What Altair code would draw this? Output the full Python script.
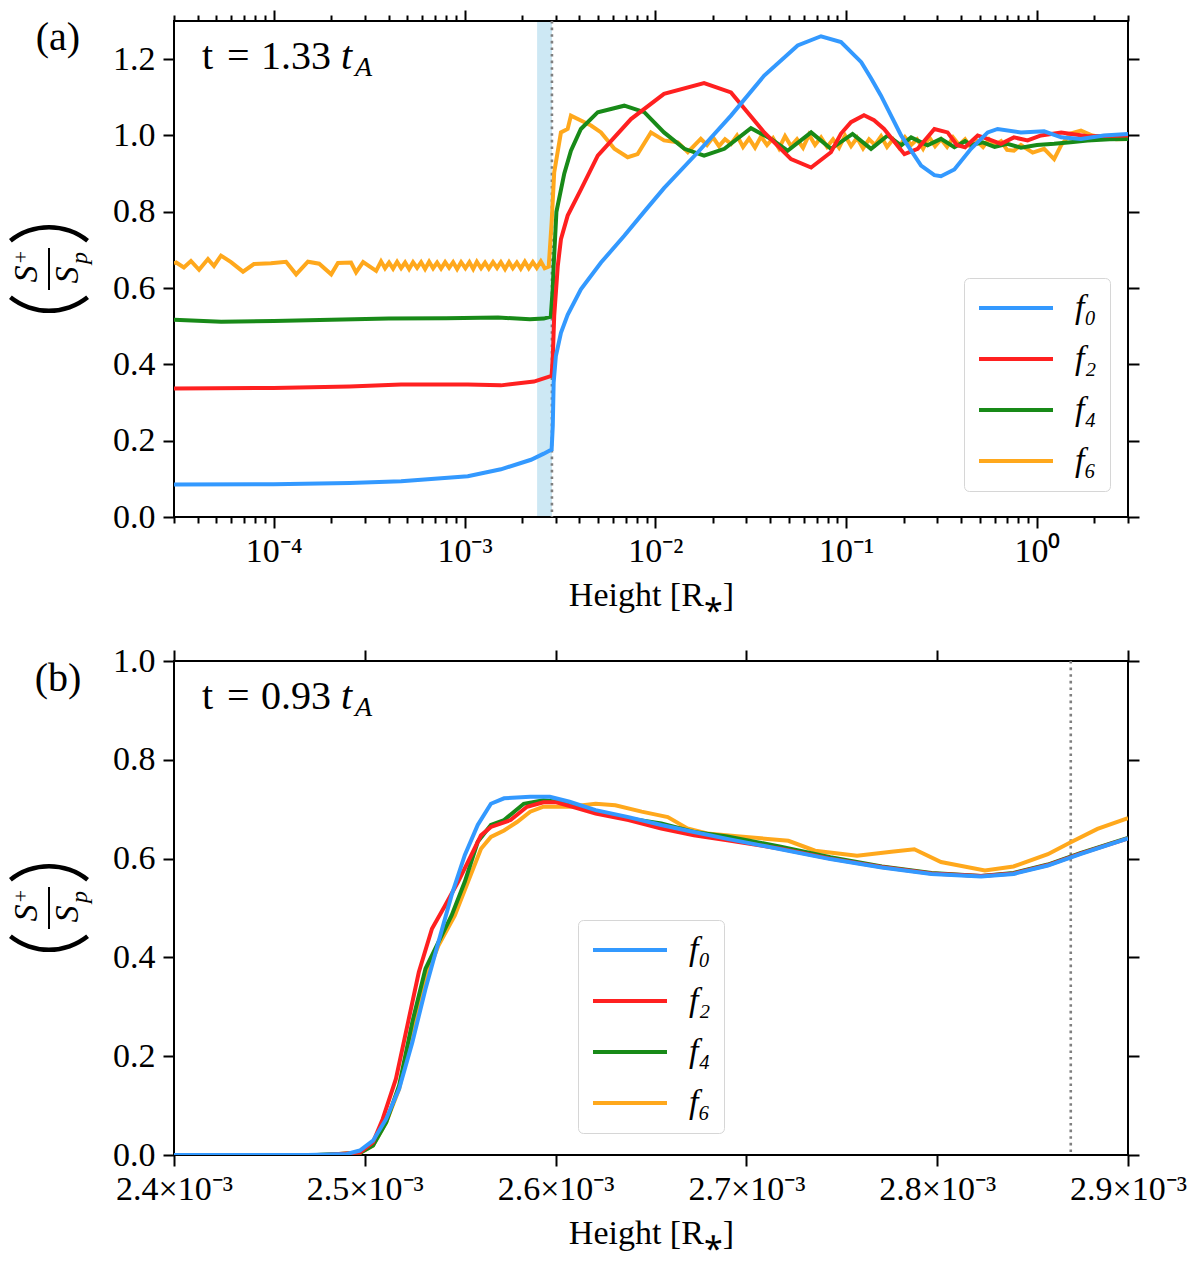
import math

import altair as alt
import pandas as pd

FONT = "Liberation Serif"
SERIES = ["f₀", "f₂", "f₄", "f₆"]
COLORS = ["#3399ff", "#ff2020", "#188a18", "#ffa81c"]

# ---------------- panel (a): t = 1.33 tA, log height ----------------
a_f0 = [(3.0e-5, 0.085), (1.0e-4, 0.086), (2.5e-4, 0.089), (4.65e-4, 0.094), (1.04e-3, 0.107),
        (1.55e-3, 0.125), (2.23e-3, 0.150), (2.60e-3, 0.166), (2.86e-3, 0.177), (2.90e-3, 0.240),
        (2.93e-3, 0.352), (3.01e-3, 0.422), (3.20e-3, 0.483), (3.47e-3, 0.530), (4.07e-3, 0.597),
        (5.19e-3, 0.667), (6.87e-3, 0.737), (8.90e-3, 0.805), (1.11e-2, 0.862), (1.67e-2, 0.956),
        (2.49e-2, 1.052), (3.72e-2, 1.157), (5.57e-2, 1.236), (7.38e-2, 1.260), (9.40e-2, 1.245),
        (0.120, 1.192), (0.135, 1.150), (0.152, 1.105), (0.194, 1.000), (0.247, 0.921),
        (0.290, 0.896), (0.314, 0.893), (0.369, 0.911), (0.451, 0.965), (0.552, 1.008),
        (0.622, 1.017), (0.824, 1.008), (1.09, 1.011), (1.34, 0.995), (1.70, 0.991),
        (2.24, 1.000), (3.00, 1.004)]

a_f2 = [(3.0e-5, 0.337), (1.0e-4, 0.338), (2.5e-4, 0.342), (4.65e-4, 0.347), (1.04e-3, 0.347),
        (1.55e-3, 0.345), (2.31e-3, 0.355), (2.86e-3, 0.370), (2.90e-3, 0.420), (2.95e-3, 0.527),
        (3.08e-3, 0.658), (3.20e-3, 0.728), (3.47e-3, 0.790), (4.07e-3, 0.858), (4.99e-3, 0.947),
        (7.45e-3, 1.043), (1.11e-2, 1.109), (1.80e-2, 1.137), (2.49e-2, 1.113), (3.72e-2, 1.008),
        (5.14e-2, 0.938), (6.55e-2, 0.916), (8.32e-2, 0.956), (9.40e-2, 1.005), (0.106, 1.035),
        (0.124, 1.053), (0.140, 1.040), (0.158, 1.017), (0.202, 0.951), (0.237, 0.965),
        (0.290, 1.017), (0.340, 1.008), (0.380, 0.975), (0.420, 0.969), (0.489, 1.000),
        (0.560, 0.990), (0.648, 0.978), (0.757, 0.995), (0.893, 0.987), (1.05, 1.000),
        (1.34, 1.008), (1.84, 0.998), (3.00, 1.000)]

a_f4 = [(3.0e-5, 0.517), (5.3e-5, 0.512), (1.0e-4, 0.514), (2.0e-4, 0.517), (4.0e-4, 0.520),
        (8.0e-4, 0.521), (1.5e-3, 0.523), (2.2e-3, 0.518), (2.60e-3, 0.520), (2.83e-3, 0.525),
        (2.90e-3, 0.600), (2.93e-3, 0.658), (3.03e-3, 0.800), (3.33e-3, 0.900), (3.61e-3, 0.960),
        (4.07e-3, 1.017), (4.99e-3, 1.061), (6.87e-3, 1.078), (8.75e-3, 1.061), (1.11e-2, 1.008),
        (1.42e-2, 0.965), (1.80e-2, 0.947), (2.30e-2, 0.965), (3.17e-2, 1.019), (4.04e-2, 0.991),
        (4.93e-2, 0.960), (6.55e-2, 1.008), (8.32e-2, 0.965), (0.108, 1.004), (0.135, 0.965),
        (0.165, 1.000), (0.194, 0.974), (0.219, 0.995), (0.267, 0.974), (0.314, 0.991),
        (0.369, 0.969), (0.420, 0.985), (0.451, 0.975), (0.520, 0.982), (0.600, 0.970),
        (0.700, 0.978), (0.824, 0.968), (1.00, 0.975), (1.23, 0.978), (1.50, 0.982),
        (1.84, 0.987), (2.40, 0.990), (3.00, 0.991)]

a_f6 = [(3.00e-5, 0.665), (3.08e-5, 0.667), (3.38e-5, 0.654), (3.68e-5, 0.671), (4.06e-5, 0.648),
        (4.52e-5, 0.676), (4.86e-5, 0.658), (5.29e-5, 0.685), (5.97e-5, 0.668), (6.90e-5, 0.643),
        (7.87e-5, 0.663), (9.66e-5, 0.665), (1.16e-4, 0.669), (1.31e-4, 0.636), (1.51e-4, 0.669),
        (1.73e-4, 0.664), (2.00e-4, 0.636), (2.17e-4, 0.666), (2.54e-4, 0.667), (2.70e-4, 0.641),
        (2.94e-4, 0.668), (3.44e-4, 0.645), (3.65e-4, 0.670), (3.83e-4, 0.652), (4.02e-4, 0.667),
        (4.22e-4, 0.651), (4.43e-4, 0.669), (4.65e-4, 0.652), (4.88e-4, 0.667), (5.12e-4, 0.650),
        (5.37e-4, 0.668), (5.64e-4, 0.653), (5.92e-4, 0.668), (6.21e-4, 0.650), (6.52e-4, 0.669),
        (6.84e-4, 0.652), (7.18e-4, 0.667), (7.53e-4, 0.651), (7.91e-4, 0.668), (8.30e-4, 0.653),
        (8.71e-4, 0.668), (9.14e-4, 0.650), (9.59e-4, 0.668), (1.01e-3, 0.652), (1.06e-3, 0.668),
        (1.11e-3, 0.650), (1.16e-3, 0.669), (1.22e-3, 0.652), (1.28e-3, 0.667), (1.34e-3, 0.651),
        (1.41e-3, 0.668), (1.48e-3, 0.653), (1.55e-3, 0.668), (1.63e-3, 0.650), (1.71e-3, 0.668),
        (1.79e-3, 0.652), (1.88e-3, 0.667), (1.97e-3, 0.651), (2.07e-3, 0.669), (2.17e-3, 0.652),
        (2.28e-3, 0.668), (2.39e-3, 0.653), (2.51e-3, 0.670), (2.63e-3, 0.652), (2.76e-3, 0.656),
        (2.86e-3, 0.772), (2.95e-3, 0.903), (3.20e-3, 1.008), (3.47e-3, 1.017), (3.61e-3, 1.052),
        (4.07e-3, 1.039), (4.60e-3, 1.026), (5.19e-3, 1.008), (6.10e-3, 0.965), (7.16e-3, 0.943),
        (8.07e-3, 0.951), (9.48e-3, 1.008), (1.11e-2, 0.987), (1.31e-2, 0.982), (1.48e-2, 0.956),
        (1.73e-2, 0.991), (1.865e-2, 0.975), (2.005e-2, 0.995), (2.156e-2, 0.972), (2.318e-2, 0.990),
        (2.492e-2, 0.978), (2.679e-2, 1.000), (2.880e-2, 0.970), (3.097e-2, 0.992), (3.329e-2, 0.968),
        (3.579e-2, 0.997), (3.848e-2, 0.975), (4.137e-2, 0.993), (4.448e-2, 0.966), (4.782e-2, 0.998),
        (5.141e-2, 0.972), (5.527e-2, 0.990), (5.942e-2, 0.968), (6.389e-2, 1.002), (6.868e-2, 0.975),
        (7.384e-2, 0.995), (7.939e-2, 0.970), (8.535e-2, 0.990), (9.176e-2, 0.968), (9.866e-2, 1.000),
        (0.1061, 0.972), (0.1140, 0.994), (0.1226, 0.966), (0.1318, 0.990), (0.1417, 0.975),
        (0.1524, 0.998), (0.1638, 0.970), (0.1761, 0.990), (0.1893, 0.968), (0.2035, 0.995),
        (0.2188, 0.975), (0.2353, 0.990), (0.2529, 0.965), (0.2719, 0.996), (0.2924, 0.972),
        (0.3143, 0.990), (0.3379, 0.970), (0.3633, 0.995), (0.3906, 0.975), (0.4199, 0.990),
        (0.4515, 0.968), (0.4854, 0.985), (0.5218, 0.970), (0.5610, 0.990), (0.6031, 0.975),
        (0.6484, 0.985), (0.6971, 0.962), (0.757, 0.960), (0.824, 0.975), (0.95, 0.955),
        (1.09, 0.965), (1.23, 0.938), (1.34, 0.975), (1.50, 1.005), (1.70, 1.013),
        (1.95, 1.000), (2.24, 0.995), (2.60, 0.990), (3.00, 0.991)]

a_band = [2.4e-3, 2.87e-3]
a_marker = 2.87e-3
a_xdomain = [3e-5, 3.0]
a_ydomain = [0.0, 1.3]
a_major = [1e-4, 1e-3, 1e-2, 1e-1, 1.0]
a_major_labels = ["10⁻⁴", "10⁻³", "10⁻²", "10⁻¹", "10⁰"]
a_yticks = [0.0, 0.2, 0.4, 0.6, 0.8, 1.0, 1.2]

# ---------------- panel (b): t = 0.93 tA, linear height ----------------
b_f0 = [(2.400e-3, 0.0), (2.470e-3, 0.0), (2.4906e-3, 0.002), (2.4974e-3, 0.009), (2.5043e-3, 0.029),
        (2.5112e-3, 0.073), (2.5180e-3, 0.134), (2.5249e-3, 0.228), (2.5318e-3, 0.336), (2.5386e-3, 0.431),
        (2.5455e-3, 0.526), (2.5524e-3, 0.607), (2.5592e-3, 0.668), (2.5661e-3, 0.711), (2.5730e-3, 0.722),
        (2.5867e-3, 0.725), (2.5970e-3, 0.725), (2.6073e-3, 0.715), (2.6210e-3, 0.698), (2.6382e-3, 0.684),
        (2.6554e-3, 0.668), (2.6725e-3, 0.654), (2.690e-3, 0.640), (2.718e-3, 0.619), (2.744e-3, 0.599),
        (2.771e-3, 0.582), (2.797e-3, 0.569), (2.823e-3, 0.564), (2.840e-3, 0.569), (2.858e-3, 0.586),
        (2.875e-3, 0.609), (2.900e-3, 0.641)]

b_f2 = [(2.400e-3, 0.0), (2.480e-3, 0.0), (2.4974e-3, 0.005), (2.5043e-3, 0.026), (2.5094e-3, 0.073),
        (2.5163e-3, 0.154), (2.5223e-3, 0.262), (2.5283e-3, 0.370), (2.5352e-3, 0.458), (2.5421e-3, 0.505),
        (2.5489e-3, 0.553), (2.5558e-3, 0.607), (2.5609e-3, 0.647), (2.5661e-3, 0.664), (2.5764e-3, 0.678),
        (2.5850e-3, 0.705), (2.5936e-3, 0.714), (2.6004e-3, 0.714), (2.6107e-3, 0.703), (2.6210e-3, 0.691),
        (2.6382e-3, 0.678), (2.6554e-3, 0.661), (2.6725e-3, 0.647), (2.690e-3, 0.637), (2.718e-3, 0.620),
        (2.744e-3, 0.600), (2.771e-3, 0.583), (2.797e-3, 0.570), (2.823e-3, 0.565), (2.840e-3, 0.570),
        (2.858e-3, 0.587), (2.875e-3, 0.610), (2.900e-3, 0.641)]

b_f4 = [(2.400e-3, 0.0), (2.475e-3, 0.0), (2.4974e-3, 0.004), (2.5043e-3, 0.019), (2.5112e-3, 0.066),
        (2.5180e-3, 0.141), (2.5249e-3, 0.269), (2.5318e-3, 0.377), (2.5386e-3, 0.431), (2.5455e-3, 0.485),
        (2.5524e-3, 0.553), (2.5592e-3, 0.634), (2.5661e-3, 0.668), (2.5730e-3, 0.678), (2.5833e-3, 0.711),
        (2.5936e-3, 0.718), (2.6039e-3, 0.714), (2.6210e-3, 0.695), (2.6382e-3, 0.681), (2.6554e-3, 0.671),
        (2.6725e-3, 0.654), (2.690e-3, 0.645), (2.718e-3, 0.624), (2.744e-3, 0.603), (2.771e-3, 0.584),
        (2.797e-3, 0.571), (2.823e-3, 0.565), (2.840e-3, 0.571), (2.858e-3, 0.588), (2.875e-3, 0.611),
        (2.900e-3, 0.642)]

b_f6 = [(2.400e-3, 0.0), (2.475e-3, 0.0), (2.4974e-3, 0.004), (2.5043e-3, 0.019), (2.5112e-3, 0.066),
        (2.5180e-3, 0.134), (2.5249e-3, 0.255), (2.5318e-3, 0.357), (2.5386e-3, 0.424), (2.5472e-3, 0.485),
        (2.5541e-3, 0.553), (2.5609e-3, 0.620), (2.5661e-3, 0.644), (2.5730e-3, 0.657), (2.5798e-3, 0.674),
        (2.5867e-3, 0.695), (2.5936e-3, 0.705), (2.6073e-3, 0.705), (2.6210e-3, 0.711), (2.6313e-3, 0.708),
        (2.6451e-3, 0.695), (2.6588e-3, 0.684), (2.6691e-3, 0.661), (2.6794e-3, 0.651), (2.6966e-3, 0.645),
        (2.722e-3, 0.636), (2.736e-3, 0.616), (2.758e-3, 0.606), (2.776e-3, 0.614), (2.788e-3, 0.619),
        (2.802e-3, 0.593), (2.825e-3, 0.576), (2.840e-3, 0.584), (2.858e-3, 0.609), (2.870e-3, 0.633),
        (2.884e-3, 0.660), (2.900e-3, 0.682)]

b_marker = 2.87e-3
b_xdomain = [2.4e-3, 2.9e-3]
b_ydomain = [0.0, 1.0]
b_xticks = [2.4e-3, 2.5e-3, 2.6e-3, 2.7e-3, 2.8e-3, 2.9e-3]
b_xlabels = ["2.4×10⁻³", "2.5×10⁻³", "2.6×10⁻³", "2.7×10⁻³", "2.8×10⁻³", "2.9×10⁻³"]
b_yticks = [0.0, 0.2, 0.4, 0.6, 0.8, 1.0]

W, HA, HB = 954, 496, 494
TICK, MINOR = 11, 6
XTITLE = "Height [R⁎]"

one = pd.DataFrame({"k": [0]})


def frame(pairs):
    rows = []
    # f6 first so that f0 ends up drawn on top
    for name, pts in pairs:
        for h, v in pts:
            rows.append({"series": name, "h": h, "v": v})
    return pd.DataFrame(rows)


def note(text, x, y, size=34, style="normal", angle=0, align="center", baseline="middle"):
    return alt.Chart(one).mark_text(
        text=text, font=FONT, fontSize=size, fontStyle=style, angle=angle,
        align=align, baseline=baseline, color="black"
    ).encode(x=alt.value(x), y=alt.value(y))


def paren(x, y, start):
    # one big bracket of the sideways (S+/Sp), drawn as a thin arc
    return alt.Chart(one).mark_arc(
        color="black", radius=64, radius2=59.5, theta=start - 0.675, theta2=start + 0.675
    ).encode(x=alt.value(x), y=alt.value(y))


def ytitle(h):
    # (S+ / Sp) written sideways, reading upwards
    c = h / 2
    return [
        note("S", -147, c + 5, 34, "italic", 270),
        note("+", -153, c - 12, 22, angle=270),
        note("S", -106, c + 6, 34, "italic", 270),
        note("p", -94, c - 11, 24, "italic", 270),
        alt.Chart(one).mark_rule(color="black", strokeWidth=2).encode(
            x=alt.value(-125), y=alt.value(c - 21), y2=alt.value(c + 21)),
        paren(-125, c + 20, 2 * math.pi),
        paren(-125, c - 20, math.pi),
    ]


def time_note(value):
    return [
        note("t", 28, 48, 40, align="left", baseline="alphabetic"),
        note("=", 53, 48, 40, align="left", baseline="alphabetic"),
        note(value, 87, 48, 40, align="left", baseline="alphabetic"),
        note("t", 167, 48, 40, "italic", align="left", baseline="alphabetic"),
        note("A", 181, 55, 28, "italic", align="left", baseline="alphabetic"),
    ]


def legend(x, y):
    return alt.Legend(
        orient="none", legendX=x, legendY=y, title=None, symbolType="stroke",
        symbolSize=5476, symbolStrokeWidth=4, clipHeight=34, labelFont=FONT, labelFontSize=34,
        labelFontStyle="italic", labelOffset=20, rowPadding=17, padding=13,
        strokeColor="#d6d6d6", fillColor="white", cornerRadius=5,
    )


def label_expr(values, labels, test):
    expr = "''"
    for v, lab in reversed(list(zip(values, labels))):
        expr = f"{test(v)} ? '{lab}' : ({expr})"
    return expr


def marker_line(value, scale):
    return alt.Chart(pd.DataFrame({"m": [value]})).mark_rule(
        color="#7f7f7f", strokeWidth=2.6, strokeDash=[2.6, 4]).encode(
        x=alt.X("m:Q", scale=scale, axis=None))


AXIS_TEXT = dict(labelFont=FONT, labelFontSize=34, labelColor="black",
                 titleFont=FONT, titleFontSize=34, titleFontWeight="normal", titleColor="black")

# ---------------- panel (a) ----------------
a_minor = [m * 10.0 ** e for e in range(-5, 1) for m in range(2, 10)
           if a_xdomain[0] <= m * 10.0 ** e <= a_xdomain[1]]
a_ticks = sorted(a_major + a_minor)
major_test = "abs(log(datum.value) / LN10 - round(log(datum.value) / LN10)) < 0.01"
a_tick_size = {"condition": {"test": major_test, "value": TICK}, "value": MINOR}
a_label_expr = label_expr(
    a_major, a_major_labels,
    lambda v: f"abs(log(datum.value) / LN10 - ({round(math.log10(v))})) < 0.01")

xa = alt.Scale(type="log", domain=a_xdomain, nice=False)
ya = alt.Scale(domain=a_ydomain, nice=False, zero=False)
cscale = alt.Scale(domain=SERIES, range=COLORS)

df_a = frame([("f₆", a_f6), ("f₄", a_f4), ("f₂", a_f2), ("f₀", a_f0)])

band_a = alt.Chart(pd.DataFrame({"lo": [a_band[0]], "hi": [a_band[1]]})).mark_rect(
    color="#cde8f4").encode(
    x=alt.X("lo:Q", scale=xa, axis=None), x2="hi:Q",
    y=alt.value(1), y2=alt.value(HA - 1))

lines_a = alt.Chart(df_a).mark_line(strokeWidth=4, clip=True).encode(
    x=alt.X("h:Q", scale=xa, axis=alt.Axis(
        orient="bottom", values=a_ticks, labelExpr=a_label_expr, tickSize=a_tick_size,
        title=XTITLE, labelFlush=False, labelOverlap=False, labelPadding=6, titlePadding=10,
        **AXIS_TEXT)),
    y=alt.Y("v:Q", scale=ya, axis=alt.Axis(
        orient="left", values=a_yticks, format=".1f", title=None, tickSize=TICK,
        labelPadding=8, **AXIS_TEXT)),
    color=alt.Color("series:N", scale=cscale, legend=legend(790, 257)),
    order=alt.Order("h:Q"),
)

box_a = alt.Chart(pd.DataFrame({"h": a_xdomain, "v": a_ydomain})).mark_point(opacity=0).encode(
    x=alt.X("h:Q", scale=xa, axis=alt.Axis(
        orient="top", values=a_ticks, labels=False, tickSize=a_tick_size, title=None)),
    y=alt.Y("v:Q", scale=ya, axis=alt.Axis(
        orient="right", values=a_yticks, labels=False, tickSize=TICK, title=None)),
)

panel_a = alt.layer(
    band_a, marker_line(a_marker, xa), lines_a, box_a,
    note("(a)", -116, 17, 40),
    *time_note("1.33"), *ytitle(HA),
).resolve_axis(x="independent", y="independent").properties(width=W, height=HA)

# ---------------- panel (b) ----------------
xb = alt.Scale(domain=b_xdomain, nice=False, zero=False)
yb = alt.Scale(domain=b_ydomain, nice=False)

df_b = frame([("f₆", b_f6), ("f₄", b_f4), ("f₂", b_f2), ("f₀", b_f0)])

lines_b = alt.Chart(df_b).mark_line(strokeWidth=4, clip=True).encode(
    x=alt.X("h:Q", scale=xb, axis=alt.Axis(
        orient="bottom", values=b_xticks,
        labelExpr=label_expr(b_xticks, b_xlabels, lambda v: f"abs(datum.value - {v}) < 1e-7"),
        tickSize=TICK, title=XTITLE, labelFlush=False, labelOverlap=False,
        labelPadding=6, titlePadding=10, **AXIS_TEXT)),
    y=alt.Y("v:Q", scale=yb, axis=alt.Axis(
        orient="left", values=b_yticks, format=".1f", title=None, tickSize=TICK,
        labelPadding=8, **AXIS_TEXT)),
    color=alt.Color("series:N", scale=cscale, legend=legend(404, 259)),
    order=alt.Order("h:Q"),
)

box_b = alt.Chart(pd.DataFrame({"h": b_xdomain, "v": b_ydomain})).mark_point(opacity=0).encode(
    x=alt.X("h:Q", scale=xb, axis=alt.Axis(
        orient="top", values=b_xticks, labels=False, tickSize=TICK, title=None)),
    y=alt.Y("v:Q", scale=yb, axis=alt.Axis(
        orient="right", values=b_yticks, labels=False, tickSize=TICK, title=None)),
)

panel_b = alt.layer(
    marker_line(b_marker, xb), lines_b, box_b,
    note("(b)", -116, 18, 40),
    *time_note("0.93"), *ytitle(HB),
).resolve_axis(x="independent", y="independent").properties(width=W, height=HB)

chart = alt.vconcat(panel_a, panel_b, spacing=30).resolve_scale(
    x="independent", y="independent", color="independent"
).resolve_legend(color="independent").properties(
    padding={"left": 0, "top": 0, "right": 0, "bottom": 0}, background="white"
).configure_view(
    stroke="black", strokeWidth=2
).configure_axis(
    tickColor="black", tickWidth=2, domain=False, grid=False, **AXIS_TEXT
)

chart.save("out.html", embed_options={"renderer": "svg", "actions": False})
